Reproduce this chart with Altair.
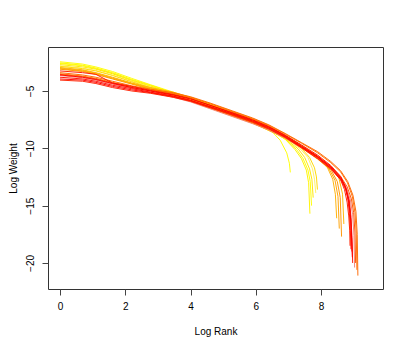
import altair as alt
import pandas as pd

# shared log-rank knots for the head of every curve
head_x = [0, 0.69, 1.1, 1.61, 2.2, 2.77, 3.47, 4.0, 4.6, 5.3, 5.9, 6.4]

series_names = ["y1", "y2", "y3", "y4", "y5", "y6",
                "o1", "o2", "o3", "o4",
                "or1", "or2", "or3", "or4",
                "r5", "r1", "r2", "r3", "r4"]

series_colors = ["#FFFF00", "#FFF200", "#FFFF00", "#FFE600", "#FFF060", "#FFD700",
                 "#FFB000", "#FFA000", "#FF9500", "#FFB400",
                 "#FF6600", "#FF7000", "#FF5000", "#F48070",
                 "#FF1800", "#FF0000", "#FF1000", "#FF0000", "#FF2000"]

head_y = {
    "y1": [-2.45, -2.65, -2.9, -3.3, -3.9, -4.45, -5.1, -5.6, -6.2, -6.9, -7.55, -8.25],
    "y2": [-2.55, -2.75, -3.0, -3.4, -4.0, -4.5, -5.15, -5.65, -6.25, -6.95, -7.6, -8.3],
    "y3": [-2.6, -2.8, -3.05, -3.45, -4.05, -4.55, -5.2, -5.7, -6.3, -7.0, -7.65, -8.35],
    "y4": [-2.7, -2.9, -3.1, -3.5, -4.1, -4.6, -5.25, -5.75, -6.35, -7.05, -7.7, -8.4],
    "y5": [-2.8, -3.0, -3.2, -3.6, -4.15, -4.65, -5.3, -5.8, -6.4, -7.1, -7.75, -8.45],
    "y6": [-2.85, -3.05, -3.25, -3.65, -4.2, -4.7, -5.35, -5.85, -6.45, -7.15, -7.8, -8.45],
    "o1": [-2.95, -3.15, -3.4, -3.8, -4.3, -4.7, -5.1, -5.55, -6.15, -6.85, -7.45, -8.05],
    "o2": [-3.05, -3.25, -3.5, -3.9, -4.35, -4.8, -5.3, -5.8, -6.4, -7.1, -7.7, -8.3],
    "o3": [-3.1, -3.3, -3.55, -3.95, -4.4, -4.85, -5.4, -5.9, -6.5, -7.2, -7.8, -8.4],
    "o4": [-3.0, -3.2, -3.45, -3.85, -4.35, -4.75, -5.2, -5.6, -6.2, -6.9, -7.5, -8.1],
    "or1": [-3.4, -3.6, -3.8, -4.15, -4.55, -4.85, -5.15, -5.5, -6.05, -6.75, -7.35, -7.95],
    "or2": [-3.5, -3.7, -3.9, -4.25, -4.6, -4.9, -5.2, -5.55, -6.1, -6.8, -7.4, -8.0],
    "or3": [-3.55, -3.75, -3.95, -4.3, -4.7, -5.0, -5.45, -5.85, -6.45, -7.15, -7.75, -8.35],
    "or4": [-3.65, -3.85, -4.05, -4.4, -4.75, -5.1, -5.55, -5.95, -6.55, -7.25, -7.85, -8.4],
    "r5": [-3.25, -3.4, -3.55, -4.3, -4.6, -4.95, -5.3, -5.65, -6.25, -6.9, -7.5, -8.1],
    "r1": [-3.6, -3.8, -4.0, -4.35, -4.7, -5.0, -5.35, -5.7, -6.25, -6.95, -7.55, -8.15],
    "r2": [-3.8, -3.95, -4.15, -4.5, -4.8, -5.1, -5.45, -5.8, -6.35, -7.0, -7.6, -8.2],
    "r3": [-3.95, -4.05, -4.25, -4.6, -4.9, -5.15, -5.5, -5.85, -6.4, -7.05, -7.65, -8.25],
    "r4": [-4.05, -4.15, -4.35, -4.7, -5.0, -5.2, -5.55, -5.9, -6.45, -7.1, -7.7, -8.3],
}

tail_x = {
    "y1": [6.75, 6.95, 7.03, 7.06],
    "y2": [6.9, 7.2, 7.4, 7.55, 7.62, 7.66],
    "y3": [6.9, 7.25, 7.45, 7.6, 7.67, 7.71],
    "y4": [6.9, 7.3, 7.5, 7.65, 7.72, 7.76],
    "y5": [6.95, 7.35, 7.6, 7.74, 7.8, 7.84],
    "y6": [7.0, 7.4, 7.65, 7.8, 7.86, 7.89],
    "o1": [6.9, 7.4, 7.9, 8.2, 8.36, 8.44, 8.48],
    "o2": [6.9, 7.4, 7.9, 8.25, 8.43, 8.52, 8.56],
    "o3": [6.9, 7.4, 7.9, 8.3, 8.5, 8.59, 8.63],
    "o4": [6.9, 7.4, 7.9, 8.3, 8.55, 8.66, 8.7],
    "or1": [6.9, 7.4, 7.9, 8.3, 8.6, 8.82, 8.98, 9.07, 9.11, 9.13],
    "or2": [6.9, 7.4, 7.9, 8.3, 8.6, 8.81, 8.96, 9.04, 9.08, 9.1],
    "or3": [6.9, 7.4, 7.9, 8.3, 8.6, 8.8, 8.93, 9.0, 9.04, 9.06],
    "or4": [6.9, 7.4, 7.9, 8.3, 8.6, 8.78, 8.9, 8.97, 9.01, 9.03],
    "r5": [6.9, 7.4, 7.9, 8.3, 8.6, 8.74, 8.82, 8.87, 8.9, 8.92],
    "r1": [6.9, 7.4, 7.9, 8.3, 8.6, 8.75, 8.85, 8.9, 8.93, 8.95],
    "r2": [6.9, 7.4, 7.9, 8.3, 8.6, 8.77, 8.87, 8.92, 8.95, 8.97],
    "r3": [6.9, 7.4, 7.9, 8.3, 8.6, 8.76, 8.86, 8.91, 8.94, 8.96],
    "r4": [6.9, 7.4, 7.9, 8.3, 8.6, 8.72, 8.8, 8.85, 8.88, 8.89],
}

tail_y = {
    "y1": [-9.3, -10.4, -11.3, -12.1],
    "y2": [-9.2, -10.1, -10.9, -11.9, -13.0, -15.7],
    "y3": [-9.2, -10.1, -10.9, -11.9, -12.9, -15.0],
    "y4": [-9.15, -10.05, -10.8, -11.8, -12.7, -14.3],
    "y5": [-9.2, -10.0, -10.8, -11.8, -12.7, -13.9],
    "y6": [-9.2, -10.0, -10.8, -11.7, -12.5, -13.6],
    "o1": [-8.85, -9.75, -10.75, -11.7, -12.7, -14.0, -16.1],
    "o2": [-9.05, -9.9, -10.9, -11.8, -12.8, -14.2, -17.0],
    "o3": [-9.1, -9.95, -10.95, -11.85, -12.9, -14.3, -17.7],
    "o4": [-8.9, -9.75, -10.7, -11.6, -12.6, -14.0, -16.6],
    "or1": [-8.7, -9.5, -10.3, -11.15, -11.95, -12.9, -14.1, -15.5, -17.5, -21.1],
    "or2": [-8.75, -9.55, -10.4, -11.25, -12.05, -13.0, -14.2, -15.6, -17.4, -20.6],
    "or3": [-9.05, -9.9, -10.75, -11.6, -12.45, -13.35, -14.4, -15.6, -17.3, -20.0],
    "or4": [-9.1, -9.95, -10.85, -11.7, -12.55, -13.4, -14.5, -15.8, -17.6, -20.4],
    "r5": [-8.85, -9.7, -10.6, -11.5, -12.45, -13.3, -14.3, -15.7, -17.2, -18.8],
    "r1": [-8.9, -9.8, -10.7, -11.6, -12.55, -13.4, -14.5, -15.8, -17.3, -19.0],
    "r2": [-8.95, -9.85, -10.75, -11.7, -12.65, -13.5, -14.6, -16.0, -17.8, -20.0],
    "r3": [-9.0, -9.9, -10.8, -11.75, -12.7, -13.6, -14.8, -16.2, -17.9, -19.5],
    "r4": [-9.05, -9.95, -10.9, -11.8, -12.75, -13.6, -14.7, -15.9, -17.2, -18.5],
}

x_ticks = [0, 2, 4, 6, 8]
y_ticks = [-5, -10, -15, -20]

rows = []
for k, name in enumerate(series_names):
    xs = head_x + tail_x[name]
    ys = head_y[name] + tail_y[name]
    for i, (xv, yv) in enumerate(zip(xs, ys)):
        rows.append({"series": name, "ord": k, "i": i, "rank": xv, "weight": yv})
df = pd.DataFrame(rows)

FONT = "Liberation Sans"

chart = alt.Chart(df).mark_line(strokeWidth=1, opacity=0.95, clip=True).encode(
    x=alt.X("rank:Q",
            scale=alt.Scale(domain=[-0.368, 9.90], nice=False, zero=False),
            axis=alt.Axis(values=x_ticks, title="Log Rank", grid=False, domain=False,
                          tickSize=6, tickColor="#444444", labelPadding=6,
                          labelFont=FONT, labelFontSize=10, labelColor="black",
                          titleFont=FONT, titleFontSize=10, titleFontWeight="normal",
                          titleColor="black", titleY=42, titleBaseline="middle")),
    y=alt.Y("weight:Q",
            scale=alt.Scale(domain=[-22.27, -1.163], nice=False, zero=False),
            axis=alt.Axis(values=y_ticks, title="Log Weight", grid=False, domain=False,
                          tickSize=6, tickColor="#444444", labelAngle=-90,
                          labelAlign="center", labelBaseline="middle", labelPadding=12,
                          labelFont=FONT, labelFontSize=10, labelColor="black",
                          titleFont=FONT, titleFontSize=10, titleFontWeight="normal",
                          titleColor="black", titleX=-35, titleBaseline="middle")),
    color=alt.Color("series:N", scale=alt.Scale(domain=series_names, range=series_colors),
                    legend=None, sort=series_names),
    detail="series:N",
    order=alt.Order("i:Q"),
).properties(
    width=335, height=242,
    autosize=alt.AutoSizeParams(type="none"),
    padding={"left": 40, "top": 39, "right": 16, "bottom": 52},
).configure(
    background="white"
).configure_view(
    stroke="#333333", strokeWidth=1
)

chart.save("out.html", embed_options={"renderer": "svg", "actions": False})
